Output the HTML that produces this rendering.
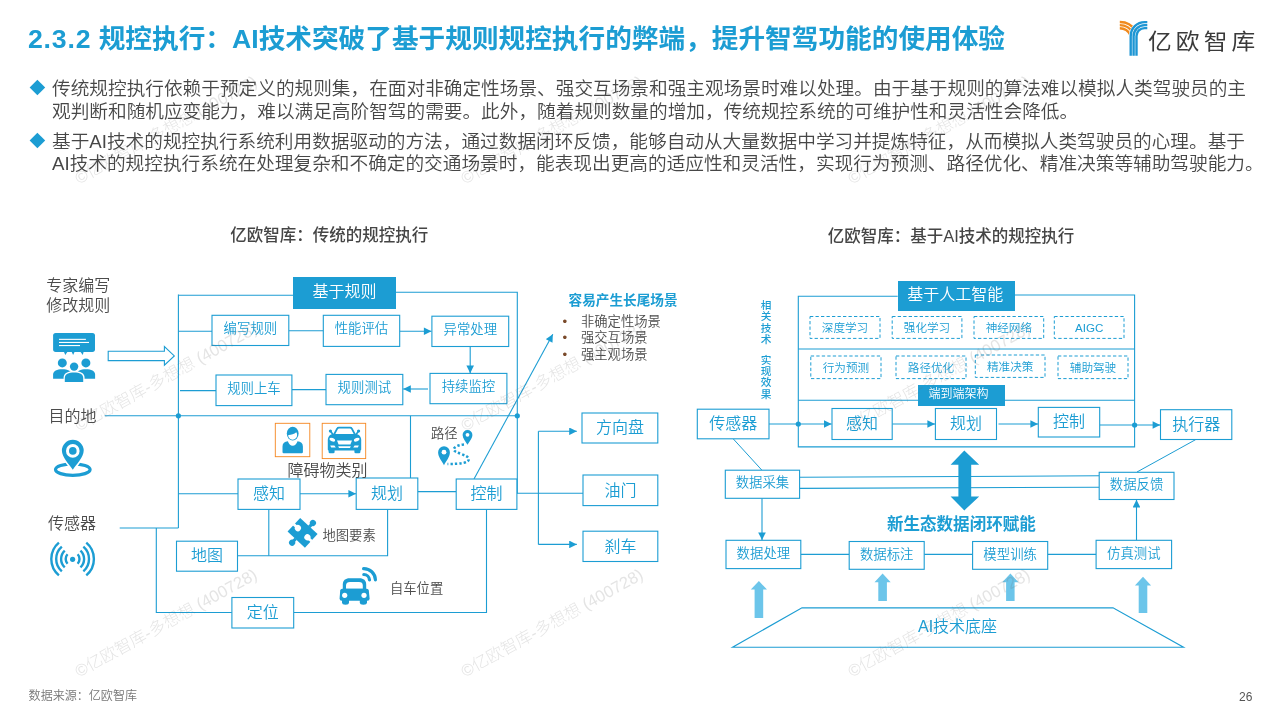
<!DOCTYPE html>
<html lang="zh-CN">
<head>
<meta charset="utf-8">
<title>2.3.2 规控执行</title>
<style>
*{margin:0;padding:0;box-sizing:border-box}
html,body{width:1280px;height:720px;overflow:hidden;background:#fff}
body{font-family:"Liberation Sans","Noto Sans CJK SC",sans-serif;color:#404040;position:relative;font-weight:350}
#slide{position:absolute;left:0;top:0;width:1280px;height:720px;overflow:hidden;background:#fff;will-change:transform}
.abs{position:absolute;white-space:nowrap}
.title{left:28px;top:18.5px;font-size:26.67px;line-height:40px;font-weight:700;color:#1c9dd3}
.para{position:absolute;left:52px;width:1215px;font-size:18.67px;line-height:22.4px;color:#474747;white-space:nowrap}
.dia{position:absolute;left:32.3px;width:10.8px;height:10.8px;background:#1c9dd3;transform:rotate(45deg);transform-origin:50% 50%}
.wm{position:absolute;white-space:nowrap;font-size:16.6px;line-height:18px;font-weight:300;font-family:"Liberation Sans","Noto Sans CJK SC",sans-serif;color:rgba(110,110,110,.19);transform-origin:0 100%;transform:rotate(-29deg)}
.cap{position:absolute;white-space:nowrap;font-size:16.5px;line-height:20px;color:#454545;text-align:center;font-weight:500}
.lbl{position:absolute;white-space:nowrap;font-size:16px;line-height:20px;color:#4b4b4b}
.bx{position:absolute;padding-top:0.5px;color:#1c9dd3;display:flex;align-items:center;justify-content:center;white-space:nowrap;font-size:16px;line-height:1}
.bx.s{font-size:13.4px;padding-bottom:4.5px}
.bx.s.r{padding-bottom:2.6px}
.bx.f{background:#1c9dd3;color:#fff;padding-bottom:2.5px}
.bx.d{font-size:11.6px}
.sm{position:absolute;white-space:nowrap;font-size:13.3px;line-height:16px;color:#4b4b4b}
svg{position:absolute;left:0;top:0;overflow:visible}
</style>
</head>
<body>
<div id="slide">

<!-- header -->
<div class="abs title"><span style="letter-spacing:0.8px">2.3.2</span> 规控执行：AI技术突破了基于规则规控执行的弊端，提升智驾功能的使用体验</div>

<!-- paragraphs -->
<div class="dia" style="top:82px"></div>
<div class="para" style="top:78.2px">传统规控执行依赖于预定义的规则集，在面对非确定性场景、强交互场景和强主观场景时难以处理。由于基于规则的算法难以模拟人类驾驶员的主<br>观判断和随机应变能力，难以满足高阶智驾的需要。此外，随着规则数量的增加，传统规控系统的可维护性和灵活性会降低。</div>
<div class="dia" style="top:134.8px"></div>
<div class="para" style="top:131px">基于AI技术的规控执行系统利用数据驱动的方法，通过数据闭环反馈，能够自动从大量数据中学习并提炼特征，从而模拟人类驾驶员的心理。基于<br>AI技术的规控执行系统在处理复杂和不确定的交通场景时，能表现出更高的适应性和灵活性，实现行为预测、路径优化、精准决策等辅助驾驶能力。</div>

<!-- LEFT DIAGRAM -->
<div id="left">
<div class="cap" style="left:179.2px;top:224.9px;width:300px">亿欧智库：传统的规控执行</div>
<div class="lbl" style="left:28.3px;top:276.4px;width:100px;text-align:center;line-height:19.6px">专家编写<br>修改规则</div>
<div class="lbl" style="left:48.5px;top:406.8px">目的地</div>
<div class="lbl" style="left:48px;top:514px">传感器</div>
<svg width="1280" height="720" viewBox="0 0 1280 720" fill="none" stroke="#1c9dd3" stroke-width="1.1">
<defs>
<marker id="ah" viewBox="0 0 10 10" refX="10" refY="5" markerWidth="9.6" markerHeight="7.6" markerUnits="userSpaceOnUse" orient="auto"><path d="M0,0 L10,5 L0,10 Z" fill="#1c9dd3" stroke="none"/></marker>
</defs>
<g id="L-lines">
<path d="M178.4,294.5 V528"/>
<path d="M178.4,295.2 H293"/>
<path d="M396,292.2 H517.3 V493.5"/>
<path d="M178.4,331.2 H212"/>
<path d="M288.8,330.7 H323.3"/>
<path d="M399.7,331.2 H431.5" marker-end="url(#ah)"/>
<path d="M470.2,346.5 V373.2" marker-end="url(#ah)"/>
<path d="M428,389 H403.2" marker-end="url(#ah)"/>
<path d="M326,389.6 H291.9"/>
<path d="M216,390.6 H180"/>
<path d="M104.7,415.8 H517.3"/>
<circle cx="178.4" cy="415.8" r="2.6" fill="#1c9dd3" stroke="none"/>
<circle cx="517.3" cy="415.8" r="2.6" fill="#1c9dd3" stroke="none"/>
<path d="M410.5,415.8 V478"/>
<path d="M178.4,493.8 H238"/>
<path d="M300,493.8 H356" marker-end="url(#ah)"/>
<path d="M417.8,491.6 H456.2"/>
<path d="M516.9,493.2 H583"/>
<path d="M538.4,431.3 V544.4"/>
<path d="M538.4,431.3 H576.8" marker-end="url(#ah)"/>
<path d="M538.4,544.4 H576.8" marker-end="url(#ah)"/>
<path d="M119.7,528 H178.4"/>
<path d="M156.3,528 V612.5 H231.9"/>
<path d="M293.7,612.5 H486.5 V509.4"/>
<path d="M268.8,509.4 V555.7"/>
<path d="M237.5,555.7 H387.6 V509.4"/>
<path d="M474,479 L552.8,334.3" marker-end="url(#ah)"/>
</g>
<g id="L-boxes" fill="#fff">
<rect x="212" y="315.3" width="76.8" height="30.2"/>
<rect x="323.3" y="315.3" width="76.4" height="31.1"/>
<rect x="431.9" y="316.2" width="76.8" height="30.3"/>
<rect x="430" y="373.4" width="76.9" height="30.3"/>
<rect x="326" y="374.4" width="76.8" height="30.3"/>
<rect x="216" y="375" width="75.9" height="30.6"/>
<rect x="238" y="479" width="62" height="30.4"/>
<rect x="356.2" y="478" width="61.6" height="31.4"/>
<rect x="456.2" y="479" width="60.7" height="30.4"/>
<rect x="176.5" y="541.2" width="61" height="30"/>
<rect x="231.9" y="597.5" width="61.8" height="30.5"/>
<rect x="582" y="413" width="75.8" height="30"/>
<rect x="583" y="475" width="74.8" height="30.6"/>
<rect x="583" y="531.2" width="74.8" height="30.3"/>
</g>
</svg>
<div class="bx f" style="left:293px;top:277px;width:103px;height:32px;">基于规则</div>
<div class="bx s" style="left:212px;top:315.3px;width:76.8px;height:30.2px;">编写规则</div>
<div class="bx s" style="left:323.3px;top:315.3px;width:76.4px;height:31.1px;">性能评估</div>
<div class="bx s" style="left:431.9px;top:316.2px;width:76.8px;height:30.3px;">异常处理</div>
<div class="bx s" style="left:430px;top:373.4px;width:76.9px;height:30.3px;">持续监控</div>
<div class="bx s" style="left:326px;top:374.4px;width:76.8px;height:30.3px;">规则测试</div>
<div class="bx s" style="left:216px;top:375px;width:75.9px;height:30.6px;">规则上车</div>
<div class="bx " style="left:238px;top:479px;width:62px;height:30.4px;">感知</div>
<div class="bx " style="left:356.2px;top:478px;width:61.6px;height:31.4px;">规划</div>
<div class="bx " style="left:456.2px;top:479px;width:60.7px;height:30.4px;">控制</div>
<div class="bx " style="left:176.5px;top:541.2px;width:61px;height:30px;">地图</div>
<div class="bx " style="left:231.9px;top:597.5px;width:61.8px;height:30.5px;">定位</div>
<div class="bx " style="left:582px;top:413px;width:75.8px;height:30px;">方向盘</div>
<div class="bx " style="left:583px;top:475px;width:74.8px;height:30.6px;">油门</div>
<div class="bx " style="left:583px;top:531.2px;width:74.8px;height:30.3px;">刹车</div>
<div class="lbl" style="left:287.5px;top:461.2px">障碍物类别</div>
<div class="sm" style="left:431px;top:425.5px">路径</div>
<div class="sm" style="left:322.5px;top:528px">地图要素</div>
<div class="sm" style="left:390px;top:581px">自车位置</div>
<div class="abs" style="left:568.5px;top:292.2px;font-size:13.65px;line-height:18px;font-weight:700;color:#1c9dd3">容易产生长尾场景</div>
<div class="sm" style="left:581px;top:314.1px;line-height:16.25px">非确定性场景<br>强交互场景<br>强主观场景</div>
<div class="sm" style="left:562.5px;top:314.1px;line-height:16.25px;color:#7a4a2a">•<br>•<br>•</div>
</div>

<!-- RIGHT DIAGRAM -->
<div id="right">
<div class="cap" style="left:801px;top:226px;width:300px">亿欧智库：基于AI技术的规控执行</div>
<svg width="1280" height="720" viewBox="0 0 1280 720" fill="none" stroke="#1c9dd3" stroke-width="1.1">
<g id="R-lines">
<path d="M897.7,296.3 H798.3 V446.9 H1134.6 V295 H1015"/>
<path d="M798.3,349 H1134.6"/>
<path d="M798.3,400.3 H1134.6"/>
<path d="M769,424 H831.6" marker-end="url(#ah)"/>
<circle cx="798.3" cy="424" r="2.6" fill="#1c9dd3" stroke="none"/>
<path d="M892.2,424 H935" marker-end="url(#ah)"/>
<path d="M998.5,424 H1038" marker-end="url(#ah)"/>
<path d="M1099.7,425 H1160.2" marker-end="url(#ah)"/>
<circle cx="1134.6" cy="425" r="2.6" fill="#1c9dd3" stroke="none"/>
<path d="M733,438.6 L762,470.3" stroke-width="1"/>
<path d="M1195.7,439.6 L1137,472" stroke-width="1"/>
<path d="M799.6,477.2 L1099.2,475.8"/>
<path d="M799.6,488.4 L1099.2,487.2"/>
<path d="M762,498.3 V540" marker-end="url(#ah)"/>
<path d="M1136.5,540.3 V499.8" marker-end="url(#ah)"/>
<path d="M800.8,554.4 H849.2"/>
<path d="M924.2,554.4 H972.6"/>
<path d="M1047.7,554.4 H1096.1"/>
<path d="M802,607.8 H1113 L1183.5,647.2 H732.6 Z" stroke-width="1.15"/>
</g>
<g id="R-boxes" fill="#fff">
<rect x="810" y="316.5" width="70" height="21.9" stroke-dasharray="3.3 2.2" stroke-width="1"/>
<rect x="892.2" y="316.5" width="69.7" height="21.9" stroke-dasharray="3.3 2.2" stroke-width="1"/>
<rect x="974" y="316.5" width="69.7" height="21.9" stroke-dasharray="3.3 2.2" stroke-width="1"/>
<rect x="1054.3" y="316.5" width="69.7" height="21.9" stroke-dasharray="3.3 2.2" stroke-width="1"/>
<rect x="810.8" y="356" width="70.2" height="22.6" stroke-dasharray="3.3 2.2" stroke-width="1"/>
<rect x="896" y="356" width="70" height="22.6" stroke-dasharray="3.3 2.2" stroke-width="1"/>
<rect x="975.3" y="355" width="69.7" height="22.4" stroke-dasharray="3.3 2.2" stroke-width="1"/>
<rect x="1058" y="356" width="70" height="22.6" stroke-dasharray="3.3 2.2" stroke-width="1"/>
<rect x="697.3" y="409.2" width="71.7" height="29.6"/>
<rect x="832" y="408.5" width="60.2" height="31"/>
<rect x="935.4" y="408.5" width="61.1" height="31"/>
<rect x="1038.3" y="407.4" width="61.4" height="29.6"/>
<rect x="1160.5" y="409.7" width="71.3" height="29.8"/>
<rect x="725.3" y="470.2" width="74.3" height="28.1"/>
<rect x="1099.2" y="472.3" width="74.8" height="27.2"/>
<rect x="726" y="540.3" width="74.8" height="28.3"/>
<rect x="849.2" y="541.5" width="75" height="27.8"/>
<rect x="972.6" y="541.5" width="75.1" height="27.8"/>
<rect x="1096.1" y="540.3" width="75.5" height="28.3"/>
</g>
<g id="R-arrows" stroke="none">
<path d="M964.3,450.6 L979.2,464.8 H971.2 V496.4 H979.2 L964.3,510.4 L950.6,496.4 H958.4 V464.8 H950.6 Z" fill="#1c9dd3"/>
<path d="M758.9,581 L767,589.6 H763.2 V618 H754.6 V589.6 H750.8 Z" fill="#6cc5ea"/>
<path d="M882.6,573.6 L890.7,582.2 H886.9 V601 H878.3 V582.2 H874.5 Z" fill="#6cc5ea"/>
<path d="M1010.4,573.6 L1018.5,582.2 H1014.6 V601 H1006.1 V582.2 H1002.3 Z" fill="#6cc5ea"/>
<path d="M1143,576.8 L1151.1,585.4 H1147.3 V613 H1138.7 V585.4 H1134.9 Z" fill="#6cc5ea"/>
</g>
</svg>
<div class="bx f" style="left:897.7px;top:281px;width:117.3px;height:29.6px;padding-right:2px">基于人工智能</div>
<div class="bx f" style="left:918px;top:384.5px;width:86.8px;height:21.2px;font-size:12px;padding-right:6px">端到端架构</div>
<div class="bx d" style="left:810px;top:316.5px;width:70px;height:21.9px;">深度学习</div>
<div class="bx d" style="left:892.2px;top:316.5px;width:69.7px;height:21.9px;">强化学习</div>
<div class="bx d" style="left:974px;top:316.5px;width:69.7px;height:21.9px;">神经网络</div>
<div class="bx d" style="left:1054.3px;top:316.5px;width:69.7px;height:21.9px;">AIGC</div>
<div class="bx d" style="left:810.8px;top:356px;width:70.2px;height:22.6px;">行为预测</div>
<div class="bx d" style="left:896px;top:356px;width:70px;height:22.6px;">路径优化</div>
<div class="bx d" style="left:975.3px;top:355px;width:69.7px;height:22.4px;">精准决策</div>
<div class="bx d" style="left:1058px;top:356px;width:70px;height:22.6px;">辅助驾驶</div>
<div class="bx " style="left:697.3px;top:409.2px;width:71.7px;height:29.6px;">传感器</div>
<div class="bx " style="left:832px;top:408.5px;width:60.2px;height:31px;">感知</div>
<div class="bx " style="left:935.4px;top:408.5px;width:61.1px;height:31px;">规划</div>
<div class="bx " style="left:1038.3px;top:407.4px;width:61.4px;height:29.6px;">控制</div>
<div class="bx " style="left:1160.5px;top:409.7px;width:71.3px;height:29.8px;">执行器</div>
<div class="bx s r" style="left:725.3px;top:470.2px;width:74.3px;height:28.1px;">数据采集</div>
<div class="bx s r" style="left:1099.2px;top:472.3px;width:74.8px;height:27.2px;">数据反馈</div>
<div class="bx s r" style="left:726px;top:540.3px;width:74.8px;height:28.3px;">数据处理</div>
<div class="bx s r" style="left:849.2px;top:541.5px;width:75px;height:27.8px;">数据标注</div>
<div class="bx s r" style="left:972.6px;top:541.5px;width:75.1px;height:27.8px;">模型训练</div>
<div class="bx s r" style="left:1096.1px;top:540.3px;width:75.5px;height:28.3px;">仿真测试</div>
<div class="abs" style="left:887px;top:515px;font-size:16.55px;line-height:20px;font-weight:700;color:#1c9dd3">新生态数据闭环赋能</div>
<div class="abs" style="left:918px;top:617.3px;font-size:16px;line-height:20px;color:#1c9dd3">AI技术底座</div>
<div class="abs" style="left:760.5px;top:300px;width:11px;font-size:10.7px;line-height:11.25px;font-weight:500;color:#1c9dd3;white-space:normal;word-break:break-all;text-align:center">相<br>关<br>技<br>术</div>
<div class="abs" style="left:760.5px;top:354.8px;width:11px;font-size:10.7px;line-height:11.25px;font-weight:500;color:#1c9dd3;white-space:normal;word-break:break-all;text-align:center">实<br>现<br>效<br>果</div>
</div>

<svg id="icons" width="1280" height="720" viewBox="0 0 1280 720">
<!-- expert icon -->
<g fill="#1c9dd3">
<rect x="53.1" y="332.9" width="41.9" height="19" rx="2.6"/>
<path d="M63.6,351 L65.3,354.9 L68,351 Z M71.3,351 L73.1,354.9 L75,351 Z M79.8,351 L82.8,354.9 L83.8,351 Z"/>
<rect x="59" y="338.8" width="26.9" height="1.1" fill="#fff"/>
<rect x="59" y="341.9" width="30" height="1.1" fill="#fff"/>
<rect x="59" y="345" width="21" height="1.1" fill="#fff"/>
<circle cx="62.3" cy="362.9" r="4.5"/>
<circle cx="85.9" cy="362.9" r="4.5"/>
<path d="M53.1,378.8 V374.5 C53.1,371 57,369.3 62.3,369.3 C67.6,369.3 71.5,371 71.5,374.5 V378.8 Z"/>
<path d="M76.7,378.8 V374.5 C76.7,371 80.6,369.3 85.9,369.3 C91.2,369.3 95.1,371 95.1,374.5 V378.8 Z"/>
<circle cx="74.1" cy="366.6" r="5.3" fill="#fff"/>
<path d="M63.6,383.2 V377.5 C63.6,373.2 68,371.3 74.1,371.3 C80.2,371.3 84.6,373.2 84.6,377.5 V383.2 Z" fill="#fff"/>
<circle cx="74.1" cy="366.6" r="4.2"/>
<path d="M64.8,382.1 V378 C64.8,374.2 68.6,372.5 74.1,372.5 C79.6,372.5 83.2,374.2 83.2,378 V382.1 Z"/>
</g>
<!-- block arrow -->
<path d="M108.2,351.2 H164.4 V346.6 L174.3,355.9 L164.4,365.2 V360.6 H108.2 Z" fill="#fff" stroke="#1c9dd3" stroke-width="1.1"/>
<!-- destination pin -->
<g>
<ellipse cx="72.8" cy="469.6" rx="17.3" ry="5.7" fill="none" stroke="#1c9dd3" stroke-width="3.2"/>
<path d="M72.8,469.8 C69,464.5 61.9,457 61.9,450.6 A10.9,10.9 0 0 1 83.7,450.6 C83.7,457 76.6,464.5 72.8,469.8 Z" fill="#1c9dd3" stroke="#fff" stroke-width="3.4"/>
<path d="M72.8,469.8 C69,464.5 61.9,457 61.9,450.6 A10.9,10.9 0 0 1 83.7,450.6 C83.7,457 76.6,464.5 72.8,469.8 Z" fill="#1c9dd3"/>
<circle cx="72.8" cy="450.9" r="6.8" fill="#fff"/>
<circle cx="72.8" cy="450.9" r="3.8" fill="#1c9dd3"/>
</g>
<!-- sensor -->
<g fill="none" stroke="#1c9dd3" stroke-width="2.4"><path d="M77.65,554.29 A6.9,6.9 0 0 1 77.65,563.71"/><path d="M67.55,563.71 A6.9,6.9 0 0 1 67.55,554.29"/><path d="M80.44,550.59 A11.5,11.5 0 0 1 80.44,567.41"/><path d="M64.76,567.41 A11.5,11.5 0 0 1 64.76,550.59"/><path d="M83.36,546.62 A16.4,16.4 0 0 1 83.36,571.38"/><path d="M61.84,571.38 A16.4,16.4 0 0 1 61.84,546.62"/><path d="M86.29,542.68 A21.3,21.3 0 0 1 86.29,575.32"/><path d="M58.91,575.32 A21.3,21.3 0 0 1 58.91,542.68"/></g>
<circle cx="72.6" cy="559.3" r="2.6" fill="#1c9dd3"/>
<!-- person in orange box -->
<rect x="275.3" y="423.3" width="34.5" height="33.4" fill="#fff" stroke="#f5861f" stroke-width="0.9"/>
<ellipse cx="292.7" cy="433.6" rx="5.9" ry="6.8" fill="#1c9dd3"/>
<path d="M288.3,435 C290.6,435.2 294,434 296.3,432.2 C297.4,433.8 297.4,436.2 296.3,437.8 C295.3,439.1 293.8,439.8 292.7,439.8 C291.4,439.8 289.8,439 288.8,437.6 C288.3,436.8 288.1,435.9 288.3,435 Z" fill="#fff"/>
<path d="M282.5,452 V446.4 C282.5,443.3 284.6,441.5 287.9,441.2 C288.6,443.8 290.6,445.8 292.7,445.8 C294.8,445.8 296.8,443.8 297.5,441.2 C300.8,441.5 302.9,443.3 302.9,446.4 V452 Q302.9,453.2 301.7,453.2 H283.7 Q282.5,453.2 282.5,452 Z" fill="#1c9dd3"/>
<!-- car in orange box -->
<rect x="322.2" y="423.3" width="43.5" height="35.3" fill="#fff" stroke="#f5861f" stroke-width="0.9"/>
<g fill="#1c9dd3">
<path d="M332.6,435.2 L336.4,428.2 Q337.2,426.8 338.8,426.8 H350.2 Q351.8,426.8 352.6,428.2 L356.4,435.2 Z"/>
<path d="M335.2,434.2 L338,429 Q338.3,428.4 339,428.4 H350 Q350.7,428.4 351,429 L353.8,434.2 Z" fill="#fff"/>
<circle cx="330.4" cy="431" r="1.6"/><circle cx="358.6" cy="431" r="1.6"/>
<path d="M329.6,431.6 L332.8,435.6 L334,434.4 L331,430.4 Z M359.4,431.6 L356.2,435.6 L355,434.4 L358,430.4 Z"/>
<path d="M327.8,449.6 V440.5 C327.8,436.5 330,434 333.5,434 H355.5 C359,434 361.2,436.5 361.2,440.5 V449.6 Q361.2,450.6 360.2,450.6 H328.8 Q327.8,450.6 327.8,449.6 Z"/>
<rect x="328.6" y="447.5" width="6" height="5.8" rx="1.4"/>
<rect x="354.4" y="447.5" width="6" height="5.8" rx="1.4"/>
<g fill="#fff">
<ellipse cx="332.3" cy="439.7" rx="3" ry="1.7" transform="rotate(22 332.3 439.7)"/>
<ellipse cx="356.7" cy="439.7" rx="3" ry="1.7" transform="rotate(-22 356.7 439.7)"/>
<path d="M337,440.6 H352 L350.4,444.6 H338.6 Z"/>
<path d="M338.2,446.2 H350.8 L350,448 H339 Z"/>
<path d="M330.2,445.4 H334.4 L335.8,447.6 H331.2 Z"/>
<path d="M358.8,445.4 H354.6 L353.2,447.6 H357.8 Z"/>
</g>
</g>
<!-- path pins -->
<g fill="#1c9dd3">
<path d="M467.5,444.8 C465.8,441.6 462.6,438.4 462.6,434.9 A4.9,4.9 0 0 1 472.4,434.9 C472.4,438.4 469.2,441.6 467.5,444.8 Z"/>
<circle cx="467.5" cy="434.8" r="1.9" fill="#fff"/>
<path d="M444,465.2 C441.8,460.8 438.1,457 438.1,452.2 A5.9,5.9 0 0 1 449.9,452.2 C449.9,457 446.2,460.8 444,465.2 Z"/>
<circle cx="444" cy="452.2" r="2.4" fill="#fff"/>
</g>
<path d="M464,444.5 C458,445 453.5,447.2 453.8,449.8 C454.2,453 468.8,454.8 468.8,459.2 C468.8,463 460,464 447.5,464" fill="none" stroke="#1c9dd3" stroke-width="2.5" stroke-dasharray="2.3 2.1"/>
<!-- puzzle -->
<g transform="translate(302.55 532.85) rotate(42.8)" fill="#1c9dd3">
<rect x="-11.85" y="-9.3" width="23.7" height="18.6"/>
<rect x="-0.7" y="-12.6" width="3.2" height="3.6"/><circle cx="0.9" cy="-14.3" r="3.1"/>
<rect x="-2.6" y="9" width="3.2" height="3.6"/><circle cx="-1" cy="14.3" r="3.1"/>
<g fill="#fff">
<rect x="-12.5" y="-1.7" width="5" height="2.8"/><circle cx="-6.6" cy="-0.3" r="3.1"/>
<rect x="7.5" y="-1.4" width="5" height="2.8"/><circle cx="6.6" cy="0" r="3.1"/>
</g>
</g>
<!-- car with wifi -->
<g fill="#1c9dd3">
<path d="M342.8,590 V584.5 C342.8,580.5 345.5,578.3 349.5,578.3 H359.5 C363.5,578.3 366.2,580.5 366.2,584.5 V590 Z"/>
<path d="M346,588.8 V585.5 C346,583 347.6,581.9 350,581.9 H359 C361.4,581.9 362.8,583 362.8,585.5 V588.8 Z" fill="#fff"/>
<path d="M339.6,598.5 L340.2,590.5 Q340.4,588.8 342.2,588.8 H366.8 Q368.6,588.8 368.8,590.5 L369.6,598.5 Q369.7,600.8 367.4,600.8 H341.8 Q339.5,600.8 339.6,598.5 Z"/>
<path d="M342,599.5 H349 V602.2 Q349,604.7 345.5,604.7 Q342,604.7 342,602.2 Z"/>
<path d="M359.8,599.5 H367 V602.2 Q367,604.7 363.4,604.7 Q359.8,604.7 359.8,602.2 Z"/>
<circle cx="344.7" cy="595.3" r="2.6" fill="#fff"/>
<circle cx="364" cy="595.3" r="2.6" fill="#fff"/>
</g>
<g fill="none" stroke="#1c9dd3" stroke-width="3.2" stroke-linecap="round">
<path d="M363.6,568.6 A11.6,11.6 0 0 1 375.4,579.8"/>
<path d="M363.8,574.5 A5.8,5.8 0 0 1 369.5,579.9"/>
</g>
<!-- logo -->
<g fill="none" stroke-width="2.4">
<g stroke="#f08a1e">
<path d="M1119.8,22 A18.2,18.2 0 0 1 1135.6,31"/>
<path d="M1119.8,25.1 A15.1,15.1 0 0 1 1133,33"/>
<path d="M1119.8,28.2 A12,12 0 0 1 1130.4,35"/>
</g>
<path d="M1130.7,55.8 V36.1 A14,14 0 0 1 1144.7,22.1 H1147.3" stroke="#fff" stroke-width="3.6"/>
<g stroke="#1e96d4">
<path d="M1130.7,55.8 V36.1 A14,14 0 0 1 1144.7,22.1 H1147.3"/>
<path d="M1133.6,55.8 V36.1 A11,11 0 0 1 1144.6,25.1 H1147.3"/>
<path d="M1136.5,55.8 V36.1 A8,8 0 0 1 1144.5,28.1 H1147.3"/>
</g>
</g>
</svg>
<div class="abs" style="left:1148px;top:25.6px;font-size:21.6px;line-height:32px;font-weight:400;letter-spacing:3.7px;color:#3a3a3a;font-family:'Liberation Sans','Noto Sans CJK SC',sans-serif;transform:scaleX(1.1);transform-origin:0 0">亿欧智库</div>
<!-- footer -->
<div class="abs" style="left:28.6px;top:688px;font-size:12.05px;line-height:16px;color:#777">数据来源：亿欧智库</div>
<div class="abs" style="left:1239px;top:689px;font-size:12px;line-height:16px;color:#555">26</div>

<!-- watermarks -->
<div id="wms">
<div class="wm" style="left:81.3px;top:170.4px">©亿欧智库-多想想 (400728)</div>
<div class="wm" style="left:467.4px;top:170.4px">©亿欧智库-多想想 (400728)</div>
<div class="wm" style="left:854.1px;top:170.4px">©亿欧智库-多想想 (400728)</div>
<div class="wm" style="left:81.3px;top:416.9px">©亿欧智库-多想想 (400728)</div>
<div class="wm" style="left:467.4px;top:416.9px">©亿欧智库-多想想 (400728)</div>
<div class="wm" style="left:854.1px;top:416.9px">©亿欧智库-多想想 (400728)</div>
<div class="wm" style="left:81.3px;top:663.4px">©亿欧智库-多想想 (400728)</div>
<div class="wm" style="left:467.4px;top:663.4px">©亿欧智库-多想想 (400728)</div>
<div class="wm" style="left:854.1px;top:663.4px">©亿欧智库-多想想 (400728)</div>
</div>

</div>
</body>
</html>
